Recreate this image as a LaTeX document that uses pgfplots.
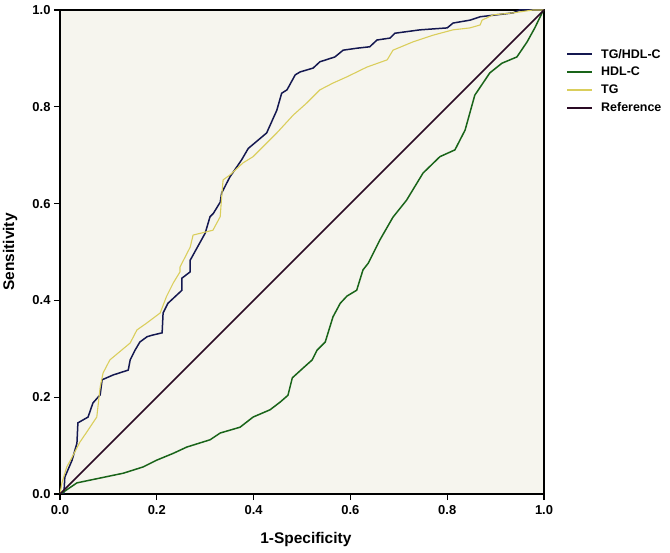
\documentclass[border=0pt]{standalone}
\usepackage{fontspec}
\setmainfont{Liberation Sans}
\usepackage{pgfplots}
\pgfplotsset{compat=1.18}
\definecolor{bgc}{RGB}{246,245,238}
\definecolor{navy}{RGB}{20,24,80}
\definecolor{hdl}{RGB}{25,100,25}
\definecolor{tgy}{RGB}{218,206,92}
\definecolor{refc}{RGB}{42,10,36}
\begin{document}
\begin{tikzpicture}
\begin{axis}[
    at={(0,0)}, anchor=south west,
    scale only axis,
    width=484bp, height=484bp,
    xmin=0, xmax=1, ymin=0, ymax=1,
    axis background/.style={fill=bgc},
    axis line style={line width=1.4bp},
    tick style={line width=1.1bp, black},
    tick align=outside,
    major tick length=6bp,
    xtick pos=bottom, ytick pos=left,
    xtick={0,0.2,0.4,0.6,0.8,1},
    ytick={0,0.2,0.4,0.6,0.8,1},
    xticklabels={0.0,0.2,0.4,0.6,0.8,1.0},
    yticklabels={0.0,0.2,0.4,0.6,0.8,1.0},
    tick label style={font=\bfseries\fontsize{13}{15}\selectfont},
    xticklabel style={yshift=-2bp},
    /pgf/number format/assume math mode=true,
    xlabel={1-Specificity},
    ylabel={Sensitivity},
    label style={font=\bfseries\fontsize{15.5}{17}\selectfont},
    xlabel style={at={(axis description cs:0.508,-0.093)}, anchor=center},
    ylabel style={at={(axis description cs:-0.103,0.5)}, anchor=center},
    legend cell align=left,
    legend style={at={(1,1)}, anchor=north west, xshift=22bp, yshift=-37bp,
        draw=none, fill=none, font=\bfseries\fontsize{12.5}{13}\selectfont,
        row sep=3.5bp, column sep=6bp, inner sep=0pt},
    legend image code/.code={\draw[#1, line width=2bp] (0bp,0bp) -- (25bp,0bp);},
]
\addplot[color=navy, line width=1.5bp] coordinates {
(0,0)(0.008,0)(0.010,0.035)(0.025,0.070)(0.035,0.105)(0.037,0.147)(0.058,0.159)
(0.068,0.188)(0.083,0.205)(0.087,0.236)(0.110,0.246)(0.141,0.256)(0.145,0.277)
(0.155,0.297)(0.165,0.314)(0.180,0.325)(0.190,0.328)(0.211,0.333)(0.213,0.374)
(0.223,0.394)(0.252,0.421)(0.252,0.446)(0.269,0.459)(0.269,0.483)(0.300,0.539)
(0.310,0.573)(0.317,0.580)(0.331,0.603)(0.334,0.622)(0.351,0.655)(0.375,0.690)
(0.389,0.714)(0.427,0.746)(0.448,0.793)(0.458,0.828)(0.469,0.835)(0.486,0.866)
(0.496,0.872)(0.523,0.880)(0.537,0.893)(0.568,0.903)(0.585,0.917)(0.613,0.921)
(0.640,0.924)(0.655,0.938)(0.682,0.942)(0.692,0.952)(0.744,0.959)(0.800,0.963)
(0.812,0.973)(0.847,0.979)(0.868,0.986)(0.936,0.994)(0.950,1.0)(1,1)};
\addlegendentry{TG/HDL-C}
\addplot[color=hdl, line width=1.5bp] coordinates {
(0,0)(0.004,0.002)(0.035,0.023)(0.083,0.033)(0.131,0.043)(0.172,0.056)(0.200,0.070)
(0.234,0.084)(0.262,0.097)(0.310,0.112)(0.331,0.126)(0.372,0.138)(0.399,0.159)
(0.434,0.174)(0.455,0.190)(0.471,0.204)(0.480,0.240)(0.502,0.260)(0.521,0.277)
(0.531,0.297)(0.548,0.314)(0.564,0.366)(0.579,0.394)(0.593,0.409)(0.613,0.421)
(0.626,0.463)(0.637,0.477)(0.661,0.525)(0.688,0.572)(0.716,0.607)(0.750,0.663)
(0.785,0.697)(0.816,0.711)(0.837,0.752)(0.857,0.824)(0.888,0.870)(0.913,0.890)
(0.944,0.903)(0.965,0.934)(0.981,0.963)(0.996,0.994)(1,1)};
\addlegendentry{HDL-C}
\addplot[color=tgy, line width=1.1bp] coordinates {
(0,0)(0.004,0.023)(0.014,0.056)(0.025,0.076)(0.041,0.107)(0.058,0.132)(0.076,0.159)
(0.083,0.221)(0.089,0.250)(0.103,0.277)(0.145,0.312)(0.159,0.339)(0.179,0.353)
(0.207,0.374)(0.220,0.408)(0.234,0.436)(0.248,0.459)(0.248,0.469)(0.269,0.510)
(0.275,0.535)(0.316,0.545)(0.331,0.573)(0.334,0.614)(0.337,0.649)(0.351,0.659)
(0.378,0.684)(0.399,0.697)(0.448,0.746)(0.482,0.783)(0.510,0.808)(0.537,0.835)
(0.564,0.849)(0.593,0.862)(0.634,0.882)(0.676,0.897)(0.688,0.917)(0.729,0.934)
(0.771,0.948)(0.812,0.959)(0.847,0.963)(0.868,0.969)(0.872,0.979)(0.895,0.990)
(0.936,0.994)(0.977,1.0)(1,1)};
\addlegendentry{TG}
\addplot[color=refc, line width=1.5bp] coordinates {(0,0)(1,1)};
\addlegendentry{Reference}
\end{axis}
\pgfresetboundingbox
\path[use as bounding box] (-60bp,-59bp) rectangle (610bp,494bp);
\end{tikzpicture}
\end{document}
